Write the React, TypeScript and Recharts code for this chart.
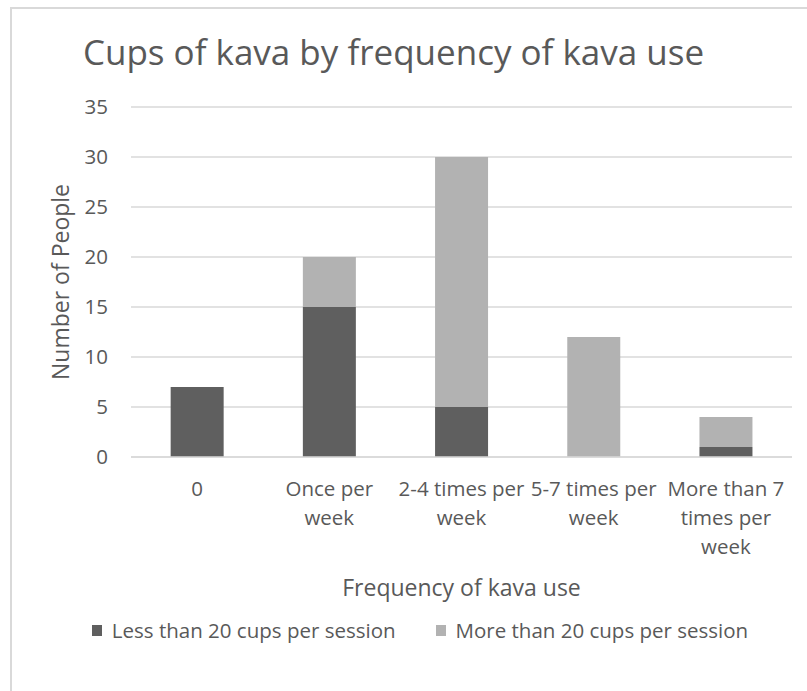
import React from 'react';
import { BarChart, Bar, XAxis, YAxis, CartesianGrid, Legend, Label } from 'recharts';

const categories = ['0', 'Once per week', '2-4 times per week', '5-7 times per week', 'More than 7 times per week'];
const lessThan20 = [7, 15, 5, 0, 1];
const moreThan20 = [0, 5, 25, 12, 3];
const yTicks = [0, 5, 10, 15, 20, 25, 30, 35];

const seriesNames = ['Less than 20 cups per session', 'More than 20 cups per session'];
const DARK = '#5f5f5f';
const LIGHT = '#b2b2b2';
const TEXT = '#595959';
const FONT = '"Open Sans", Lato, sans-serif';
const TICK_SIZE = 20.5;

const data = categories.map((c, i) => ({ name: c, less: lessThan20[i], more: moreThan20[i] }));

let canvasCtx: CanvasRenderingContext2D | null = null;
function measure(text: string): number {
  if (!canvasCtx) {
    const c = document.createElement('canvas');
    canvasCtx = c.getContext('2d');
  }
  if (!canvasCtx) return text.length * TICK_SIZE * 0.55;
  canvasCtx.font = `${TICK_SIZE}px ${FONT}`;
  return canvasCtx.measureText(text).width;
}

function wrap(text: string, maxW: number): string[] {
  const words = text.split(' ');
  const lines: string[] = [];
  let cur = '';
  for (const w of words) {
    const test = cur ? cur + ' ' + w : w;
    if (cur && measure(test) > maxW) {
      lines.push(cur);
      cur = w;
    } else {
      cur = test;
    }
  }
  if (cur) lines.push(cur);
  return lines;
}

const XTick = (props: any) => {
  const { x, payload } = props;
  const lines = wrap(String(payload.value), 136);
  return (
    <g>
      {lines.map((l, i) => (
        <text
          key={i}
          x={x}
          y={488 + i * 29}
          textAnchor="middle"
          dominantBaseline="central"
          fill={TEXT}
          fontSize={TICK_SIZE}
          fontFamily={FONT}
        >
          {l}
        </text>
      ))}
    </g>
  );
};

const LegendContent = () => (
  <div style={{ display: 'flex', justifyContent: 'center', alignItems: 'center', fontFamily: FONT, fontSize: TICK_SIZE, color: TEXT, paddingLeft: 33 }}>
    {[DARK, LIGHT].map((col, i) => (
      <div key={i} style={{ display: 'flex', alignItems: 'center', marginLeft: i ? 40 : 0 }}>
        <span style={{ display: 'inline-block', width: 10, height: 11, background: col, marginRight: 10 }} />
        <span>{seriesNames[i]}</span>
      </div>
    ))}
  </div>
);

export default function App() {
  return (
    <div style={{ position: 'absolute', left: 0, top: 0, width: 807, height: 691, overflow: 'hidden', background: '#fff' }}>
      <div style={{ position: 'absolute', left: 10, top: 7, width: 820, height: 720, border: '2px solid #d9d9d9', boxSizing: 'border-box' }} />
      <div style={{ position: 'absolute', left: 0, top: 28, width: 807, textAlign: 'center', fontFamily: FONT, fontSize: 35, color: TEXT, whiteSpace: 'nowrap' }}>
        <span style={{ position: 'relative', left: -10 }}>Cups of kava by frequency of kava use</span>
      </div>
      <div style={{ position: 'absolute', left: 0, top: 0 }}>
        <BarChart width={807} height={691} data={data} margin={{ top: 107, right: 15, left: 0, bottom: 0 }} barCategoryGap="30%">
          <CartesianGrid vertical={false} stroke="#d9d9d9" strokeWidth={1.5} />
          <XAxis
            dataKey="name"
            height={234}
            axisLine={{ stroke: '#d9d9d9', strokeWidth: 1.5 }}
            tickLine={false}
            interval={0}
            tick={<XTick />}
          >
            <Label
              content={(p: any) => {
                const vb = p.viewBox;
                return (
                  <text x={vb.x + vb.width / 2} y={vb.y + 130} textAnchor="middle" dominantBaseline="central" fill={TEXT} fontSize={23} fontFamily={FONT}>
                    Frequency of kava use
                  </text>
                );
              }}
            />
          </XAxis>
          <YAxis
            width={131}
            domain={[0, 35]}
            ticks={yTicks}
            axisLine={false}
            tickLine={false}
            tickSize={6}
            tickMargin={17}
            tick={{ fill: TEXT, fontSize: TICK_SIZE, fontFamily: FONT }}
          >
            <Label
              content={(p: any) => {
                const vb = p.viewBox;
                const cx = 60;
                const cy = vb.y + vb.height / 2;
                return (
                  <text x={cx} y={cy} textAnchor="middle" dominantBaseline="central" transform={`rotate(-90, ${cx}, ${cy})`} fill={TEXT} fontSize={23} fontFamily={FONT}>
                    Number of People
                  </text>
                );
              }}
            />
          </YAxis>
          <Legend
            layout="horizontal"
            verticalAlign="middle"
            align="center"
            content={<LegendContent />}
            wrapperStyle={{ position: 'absolute', top: 616, left: 0, width: 807 }}
          />
          <Bar dataKey="less" name={seriesNames[0]} stackId="a" fill={DARK} isAnimationActive={false} />
          <Bar dataKey="more" name={seriesNames[1]} stackId="a" fill={LIGHT} isAnimationActive={false} />
        </BarChart>
      </div>
    </div>
  );
}
